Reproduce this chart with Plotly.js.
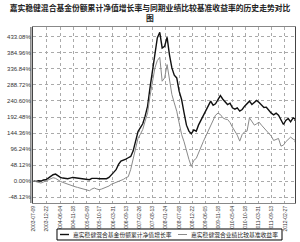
<!DOCTYPE html>
<html><head><meta charset="utf-8">
<script src="https://cdn.plot.ly/plotly-3.0.1.min.js"></script>
<style>html,body{margin:0;padding:0;background:#fff}#c{width:300px;height:242px}</style>
</head><body><div id="c"></div>
<script>
// monthly observation dates (2003-07 .. 2012-06) plus period end
const dates = (function(){const d=[];for(let m=0;m<=108;m++){const y=2003+Math.floor((6+m)/12);const mo=((6+m)%12)+1;d.push(y+'-'+String(mo).padStart(2,'0')+'-09');}d.push('2012-06-29');return d;})();
const fundGrowth = [0,-1,1,0,3,4,9,14,19,21,16,11,9,7,7,9,11,10,9,7,8,6,5,4,8,9,8,7,7,6,7,11,17,26,34,50,60,62,66,70,74,90,120,149,160,172,195,225,280,330,392,430,447,400,405,432,380,340,318,310,270,245,205,168,150,142,154,150,168,182,194,210,225,240,228,232,245,257,246,238,230,234,220,216,220,210,215,225,234,240,230,238,242,236,228,221,222,212,204,199,204,198,184,170,182,188,178,190,186,181];
const benchReturn = [0,-2,-5,-6,-3,0,4,8,10,8,3,-1,-4,-7,-9,-12,-16,-17,-19,-21,-22,-25,-27,-29,-24,-21,-24,-26,-24,-21,-19,-15,-10,-7,-4,-2,0,5,10,13,35,65,100,129,140,155,180,205,255,300,340,362,372,300,310,350,300,260,235,210,175,140,118,90,65,44,62,68,85,105,119,135,150,168,185,198,204,200,190,186,185,176,162,150,138,120,140,148,150,190,178,168,172,177,168,160,152,146,135,122,125,128,105,108,118,124,132,126,122,117];
const tickDates = ['2003-07-09','2003-12-22','2004-06-04','2004-11-18','2005-05-09','2005-10-17','2006-03-31','2006-09-13','2007-02-26','2007-08-13','2008-01-24','2008-07-08','2008-12-22','2009-06-05','2009-11-18','2010-05-04','2010-10-18','2011-03-31','2011-09-13','2012-02-27'];
const yTicks = [-48.12,0,48.12,96.24,144.36,192.48,240.60,288.72,336.84,384.96,433.08];
const yTickText = ['-48.12%','0.00%','48.12%','96.24%','144.36%','192.48%','240.60%','288.72%','336.84%','384.96%','433.08%'];
const seriesNames = ['嘉实稳健混合基金份额累计净值增长率','嘉实稳健混合业绩比较基准收益率'];
const seriesColors = ['#111','#8a8a8a'];

const traces = [
 {x:dates,y:fundGrowth,type:'scatter',mode:'lines',name:seriesNames[0],line:{color:seriesColors[0],width:1.4}},
 {x:dates,y:benchReturn,type:'scatter',mode:'lines',name:seriesNames[1],line:{color:seriesColors[1],width:1}}
];
const CJK = '"Noto Sans CJK SC", sans-serif';
const LY = -0.179;
const layout = {
 width:300,height:242,margin:{l:33,r:5,t:27,b:39},
 paper_bgcolor:'#fff',plot_bgcolor:'#fff',showlegend:false,
 title:{text:'嘉实稳健混合基金份额累计净值增长率与同期业绩比较基准收益率的历史走势对比<br>图',
   font:{family:CJK,size:7.8,color:'#222',weight:'bold'},x:0.5,xanchor:'center',xref:'container',yref:'container',y:0.955,yanchor:'middle'},
 xaxis:{type:'date',range:['2003-07-01','2012-07-03'],tickmode:'array',tickvals:tickDates,ticktext:tickDates,
   tickangle:-90,tickfont:{family:'"Liberation Sans", sans-serif',size:5,color:'#333'},automargin:false,
   showgrid:true,gridcolor:'#aaa',griddash:'dot',gridwidth:1,zeroline:false,
   showline:true,linecolor:'#888',linewidth:1,mirror:true,ticks:''},
 yaxis:{range:[-66,463],tickmode:'array',tickvals:yTicks,ticktext:yTickText,automargin:false,
   tickfont:{family:'"Liberation Sans", sans-serif',size:6,color:'#333'},
   showgrid:true,gridcolor:'#aaa',griddash:'dot',gridwidth:1,zeroline:false,
   showline:true,linecolor:'#444',linewidth:1,mirror:true,ticks:''},
 shapes:[
  {type:'line',xref:'paper',yref:'paper',x0:-0.008,x1:-0.008,y0:0,y1:1,line:{color:'#444',width:1}},
  {type:'rect',xref:'paper',yref:'paper',x0:0.0916,x1:0.9504,y0:-0.2102,y1:-0.1477,line:{color:'#000',width:1},fillcolor:'#fff'},
  {type:'line',xref:'paper',yref:'paper',x0:0.1031,x1:0.1374,y0:LY,y1:LY,line:{color:seriesColors[0],width:1.4}},
  {type:'line',xref:'paper',yref:'paper',x0:0.5534,x1:0.5878,y0:LY,y1:LY,line:{color:seriesColors[1],width:1}}
 ],
 annotations:[
  {xref:'paper',yref:'paper',x:0.145,y:LY,xanchor:'left',yanchor:'middle',showarrow:false,text:seriesNames[0],font:{family:CJK,size:5.8,color:'#222'}},
  {xref:'paper',yref:'paper',x:0.5954,y:LY,xanchor:'left',yanchor:'middle',showarrow:false,text:seriesNames[1],font:{family:CJK,size:5.8,color:'#222'}}
 ]
};
Plotly.newPlot('c',traces,layout,{staticPlot:true,displayModeBar:false});
</script></body></html>
